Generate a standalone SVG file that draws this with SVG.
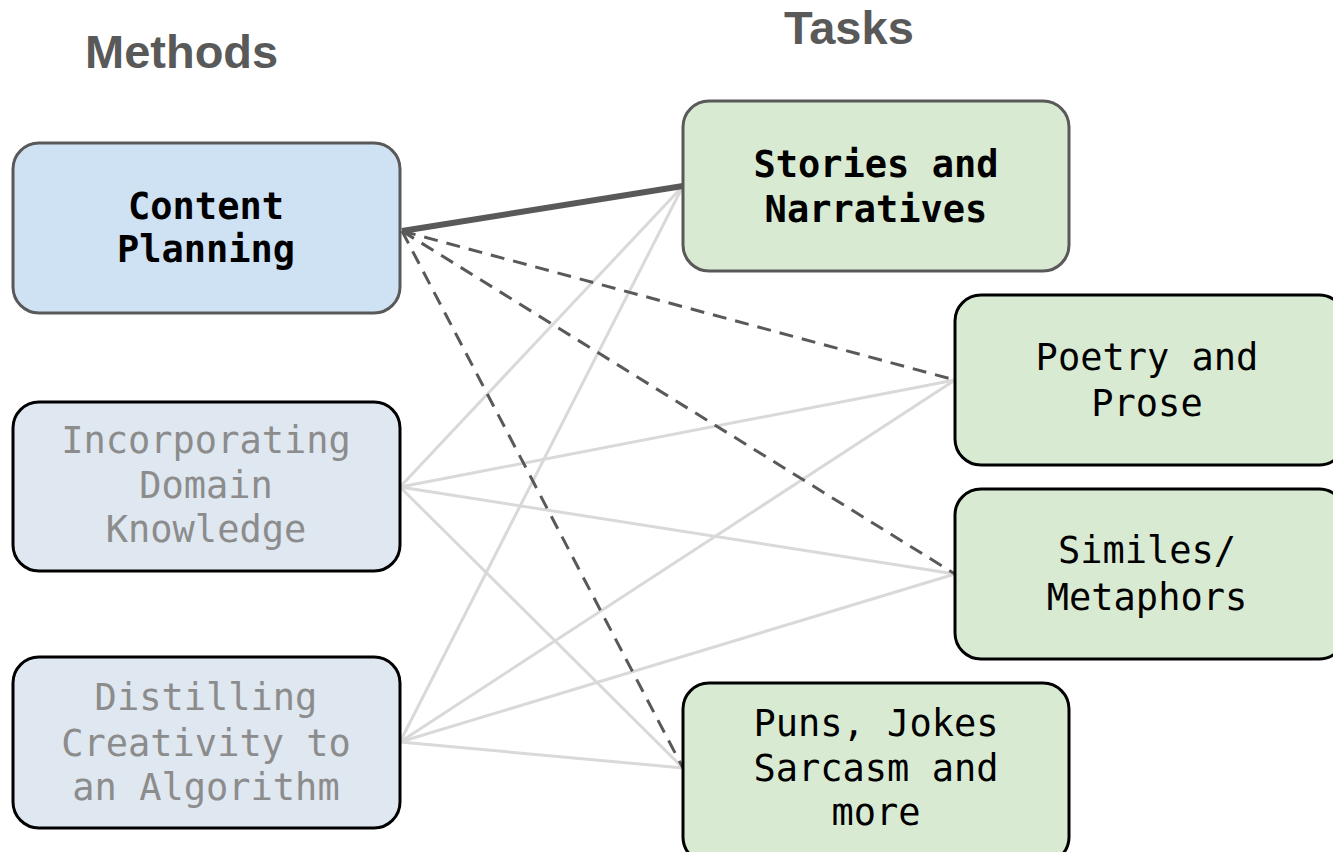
<svg xmlns="http://www.w3.org/2000/svg" width="1333" height="852" viewBox="0 0 1333 852">
  <style>
    .title { font-family: "Liberation Sans", Arial, sans-serif; font-weight: bold; font-size: 47px; fill: #595959; }
    .lbl { font-family: "DejaVu Sans Mono", "Liberation Mono", monospace; font-size: 37px; text-anchor: middle; }
    .bold { font-weight: bold; fill: #000000; }
    .dark { fill: #000000; }
    .dim { fill: #8c8c8c; }
    .method-on { fill: #cfe2f3; stroke: #595959; stroke-width: 3; }
    .method-off { fill: #dfe7f0; stroke: #000000; stroke-width: 3; }
    .task-on { fill: #d9ead3; stroke: #595959; stroke-width: 3; }
    .task { fill: #d9ead3; stroke: #000000; stroke-width: 3; }
    .solid { stroke: #595959; stroke-width: 6; fill: none; }
    .dash { stroke: #595959; stroke-width: 3; stroke-dasharray: 14 9; fill: none; }
    .faint { stroke: #d9d9d9; stroke-width: 3; fill: none; }
  </style>

  <rect width="1333" height="852" fill="#ffffff"/>

  <text class="title" x="85" y="68">Methods</text>
  <text class="title" x="784" y="44">Tasks</text>

  <!-- connectors -->
  <g id="connectors">
    <line class="faint" x1="400" y1="487" x2="683" y2="186"/>
    <line class="faint" x1="400" y1="487" x2="955" y2="380"/>
    <line class="faint" x1="400" y1="487" x2="955" y2="574"/>
    <line class="faint" x1="400" y1="487" x2="683" y2="768"/>
    <line class="faint" x1="400" y1="742" x2="683" y2="186"/>
    <line class="faint" x1="400" y1="742" x2="955" y2="380"/>
    <line class="faint" x1="400" y1="742" x2="955" y2="574"/>
    <line class="faint" x1="400" y1="742" x2="683" y2="768"/>
    <line class="dash" x1="402" y1="231" x2="955" y2="380"/>
    <line class="dash" x1="402" y1="231" x2="955" y2="574"/>
    <line class="dash" x1="402" y1="231" x2="683" y2="768"/>
    <line class="solid" x1="402" y1="231" x2="683" y2="186"/>
  </g>

  <!-- methods -->
  <g id="content-planning">
    <rect class="method-on" x="13" y="143" width="387" height="170" rx="26"/>
    <text class="lbl bold" x="206" y="219">Content</text>
    <text class="lbl bold" x="206" y="262">Planning</text>
  </g>
  <g id="domain-knowledge">
    <rect class="method-off" x="13" y="402" width="387" height="169" rx="26"/>
    <text class="lbl dim" x="206" y="453">Incorporating</text>
    <text class="lbl dim" x="206" y="498">Domain</text>
    <text class="lbl dim" x="206" y="542">Knowledge</text>
  </g>
  <g id="distilling">
    <rect class="method-off" x="13" y="657" width="387" height="171" rx="26"/>
    <text class="lbl dim" x="206" y="710">Distilling</text>
    <text class="lbl dim" x="206" y="756">Creativity to</text>
    <text class="lbl dim" x="206" y="800">an Algorithm</text>
  </g>

  <!-- tasks -->
  <g id="stories">
    <rect class="task-on" x="683" y="101" width="386" height="170" rx="26"/>
    <text class="lbl bold" x="876" y="177">Stories and</text>
    <text class="lbl bold" x="876" y="222">Narratives</text>
  </g>
  <g id="poetry">
    <rect class="task" x="955" y="295" width="390" height="170" rx="26"/>
    <text class="lbl dark" x="1147" y="370">Poetry and</text>
    <text class="lbl dark" x="1147" y="416">Prose</text>
  </g>
  <g id="similes">
    <rect class="task" x="955" y="489" width="390" height="170" rx="26"/>
    <text class="lbl dark" x="1147" y="563">Similes/</text>
    <text class="lbl dark" x="1147" y="610">Metaphors</text>
  </g>
  <g id="puns">
    <rect class="task" x="683" y="683" width="386" height="180" rx="26"/>
    <text class="lbl dark" x="876" y="736">Puns, Jokes</text>
    <text class="lbl dark" x="876" y="781">Sarcasm and</text>
    <text class="lbl dark" x="876" y="825">more</text>
  </g>
</svg>
